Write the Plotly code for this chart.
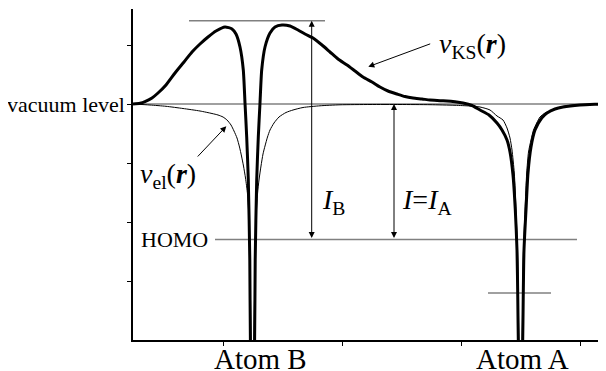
import plotly.graph_objects as go

# Kohn-Sham potential v_KS(r) (arbitrary units, vacuum level = 0)
ks_x = [0.0, 0.7, 1.2, 1.9, 2.5, 3.3, 4.2, 5.1, 5.9, 6.7, 7.5, 8.3, 9.2, 9.9, 10.3, 10.7,
        11.03, 11.2, 11.37, 11.53, 11.68, 11.74, 11.95, 12.16, 12.22, 12.37, 12.53, 12.7,
        12.87, 13.2, 13.7, 14.2, 14.9, 15.7, 16.5, 17.2, 18.0, 18.9, 19.7, 20.5, 21.4,
        22.2, 23.0, 23.9, 24.7, 25.5, 26.4, 27.2, 28.0, 28.9, 29.7, 30.7, 31.4, 32.2,
        33.0, 33.9, 34.7, 35.6, 36.4, 36.9, 37.4, 37.7, 38.0, 38.23, 38.4, 38.48, 38.53,
        38.75, 38.97, 39.02, 39.1, 39.3, 39.5, 39.8, 40.2, 40.87, 41.4, 42.2, 43.0, 44.7,
        46.2, 47.3]
ks_y = [0.0, 0.07, 0.23, 0.6, 1.1, 1.9, 3.1, 4.2, 5.2, 6.0, 6.7, 7.3, 7.7, 7.5, 7.0, 5.7,
        3.4, 0.1, -3.3, -7.6, -15.6, -23.6, -31.6, -23.6, -15.6, -7.6, -3.3, 0.1,
        3.4, 5.7, 7.1, 7.7, 7.9, 7.8, 7.4, 7.0, 6.6, 5.9, 5.2, 4.5, 3.9,
        3.3, 2.7, 2.2, 1.7, 1.3, 1.0, 0.75, 0.6, 0.5, 0.4, 0.33, 0.3, 0.22,
        0.1, -0.15, -0.6, -1.1, -1.9, -2.6, -3.6, -4.8, -7.1, -10.6, -14.6, -19.6, -23.6,
        -31.6, -23.6, -19.6, -14.6, -10.6, -6.9, -4.3, -2.6, -1.4, -0.9, -0.5, -0.3, -0.1,
        -0.03, 0.0]

# external (nuclear) potential v_el(r)
el_x = [0.0, 1.7, 3.3, 5.0, 6.7, 7.9, 8.5, 9.0, 9.4, 9.8, 10.1, 10.4, 10.65, 10.85, 11.05,
        11.25, 11.45, 11.6, 11.75, 11.8, 11.95, 12.1, 12.15, 12.3, 12.45, 12.6, 12.8, 13.0,
        13.2, 13.45, 13.7, 14.1, 14.6, 15.3, 16.0, 17.0, 18.7, 20.7, 23.7, 26.7, 29.7, 32.2,
        33.7, 34.7, 35.7, 36.4, 37.0, 37.4, 37.7, 37.9, 38.13, 38.3, 38.48, 38.58, 38.75,
        38.92, 39.02, 39.2, 39.37, 39.55, 39.8, 40.05, 40.37, 40.7, 41.2, 41.7, 42.4,
        43.2, 44.0, 45.2, 47.3]
el_y = [0.0, -0.1, -0.23, -0.45, -0.7, -0.95, -1.1, -1.3, -1.6, -2.1, -2.7, -3.4, -4.3,
        -5.2, -6.2, -7.4, -9.0, -11.5, -19.6, -23.6, -31.6, -23.6, -19.6, -11.5, -9.0,
        -7.6, -6.2, -5.0, -4.2, -3.3, -2.6, -1.9, -1.3, -0.85, -0.6, -0.35, -0.18, -0.08,
        -0.05, -0.05, -0.07, -0.13, -0.2, -0.3, -0.6, -1.2, -1.6, -2.4, -3.4, -4.6, -6.9,
        -10.6, -15.6, -23.6, -31.6, -23.6, -15.6, -10.6, -6.9, -4.8, -3.6, -2.6, -1.9,
        -1.3, -0.9, -0.7, -0.4, -0.2, -0.1, -0.04, -0.01]

# energy levels
vacuum_level = 0.0
homo_level = -13.55
ks_top_level = 8.33
core_a_level = -18.9

atom_names = ["Atom B", "Atom A"]
atom_pos = [11.95, 38.75]

FONT = "Liberation Serif, Times New Roman, serif"
GREY = "#808080"

fig = go.Figure()

fig.add_trace(go.Scatter(x=el_x, y=el_y, mode="lines",
                         line=dict(color="black", width=1, shape="spline", smoothing=0.6),
                         hoverinfo="skip"))
fig.add_trace(go.Scatter(x=ks_x, y=ks_y, mode="lines",
                         line=dict(color="black", width=3, shape="spline", smoothing=0.6),
                         hoverinfo="skip"))

# horizontal reference levels
for x0, x1, lev in [(0.0, 47.3, vacuum_level), (8.2, 44.4, homo_level),
                    (5.6, 19.2, ks_top_level), (35.5, 41.8, core_a_level)]:
    fig.add_shape(type="line", x0=x0, x1=x1, y0=lev, y1=lev,
                  line=dict(color=GREY, width=1.5), layer="below")

# double arrows for ionisation energies
for xa, top in [(17.87, ks_top_level), (26.1, vacuum_level)]:
    fig.add_annotation(x=xa, y=top, ax=xa, ay=homo_level, axref="x", ayref="y",
                       text="", showarrow=True, arrowhead=2, arrowsize=1.2, arrowwidth=1,
                       arrowside="end+start", arrowcolor="black", standoff=0, startstandoff=0)

# pointer arrows to the curves
fig.add_annotation(x=23.53, y=3.73, ax=29.87, ay=6.07, axref="x", ayref="y", text="",
                   showarrow=True, arrowhead=2, arrowsize=1.2, arrowwidth=1, arrowcolor="black")
fig.add_annotation(x=9.33, y=-2.23, ax=6.33, ay=-5.4, axref="x", ayref="y", text="",
                   showarrow=True, arrowhead=2, arrowsize=1.2, arrowwidth=1, arrowcolor="black")

big = dict(family=FONT, size=28, color="black")
fig.add_annotation(x=30.4, y=5.9, xanchor="left", yanchor="middle", showarrow=False,
                   text="<i>v</i><sub>KS</sub>(<b><i>r</i></b>)", font=big)
fig.add_annotation(x=0.5, y=-7.1, xanchor="left", yanchor="middle", showarrow=False,
                   text="<i>v</i><sub>el</sub>(<b><i>r</i></b>)", font=big)
fig.add_annotation(x=18.7, y=-9.7, xanchor="left", yanchor="middle", showarrow=False,
                   text="<i>I</i><sub>B</sub>", font=big)
fig.add_annotation(x=26.7, y=-9.7, xanchor="left", yanchor="middle", showarrow=False,
                   text="<i>I</i>=<i>I</i><sub>A</sub>", font=big)

small = dict(family=FONT, size=22, color="black")
fig.add_annotation(x=0, xref="paper", y=vacuum_level, xanchor="right", yanchor="middle",
                   xshift=-6, showarrow=False, text="vacuum level", font=small)
fig.add_annotation(x=7.7, y=homo_level, xanchor="right", yanchor="middle",
                   showarrow=False, text="HOMO", font=small)

for name, pos, shift in zip(atom_names, atom_pos, [8, 2]):
    fig.add_annotation(x=pos, y=0, yref="paper", xanchor="center", yanchor="top",
                       xshift=shift, yshift=-1, showarrow=False, text=name,
                       font=dict(family=FONT, size=29, color="black"))

fig.update_xaxes(range=[0, 47.3], showline=True, linecolor="black", linewidth=1.5,
                 ticks="outside", ticklen=4, tickwidth=1, tickcolor="black",
                 tickvals=[9.0, 20.9, 32.8, 44.7], showticklabels=False,
                 showgrid=False, zeroline=False)
fig.update_yaxes(range=[-23.6, 9.5], showline=True, linecolor="black", linewidth=1.5,
                 ticks="outside", ticklen=4, tickwidth=1, tickcolor="black",
                 tickvals=[5.9, 0.0, -5.9, -11.8, -17.7], showticklabels=False,
                 showgrid=False, zeroline=False)

# the page body adds an 8 px offset, so the figure is 8 px smaller than the window
fig.update_layout(width=598, height=363, margin=dict(l=125, r=0, t=1, b=31),
                  plot_bgcolor="white", paper_bgcolor="white", showlegend=False)

fig.write_html("out.html")
